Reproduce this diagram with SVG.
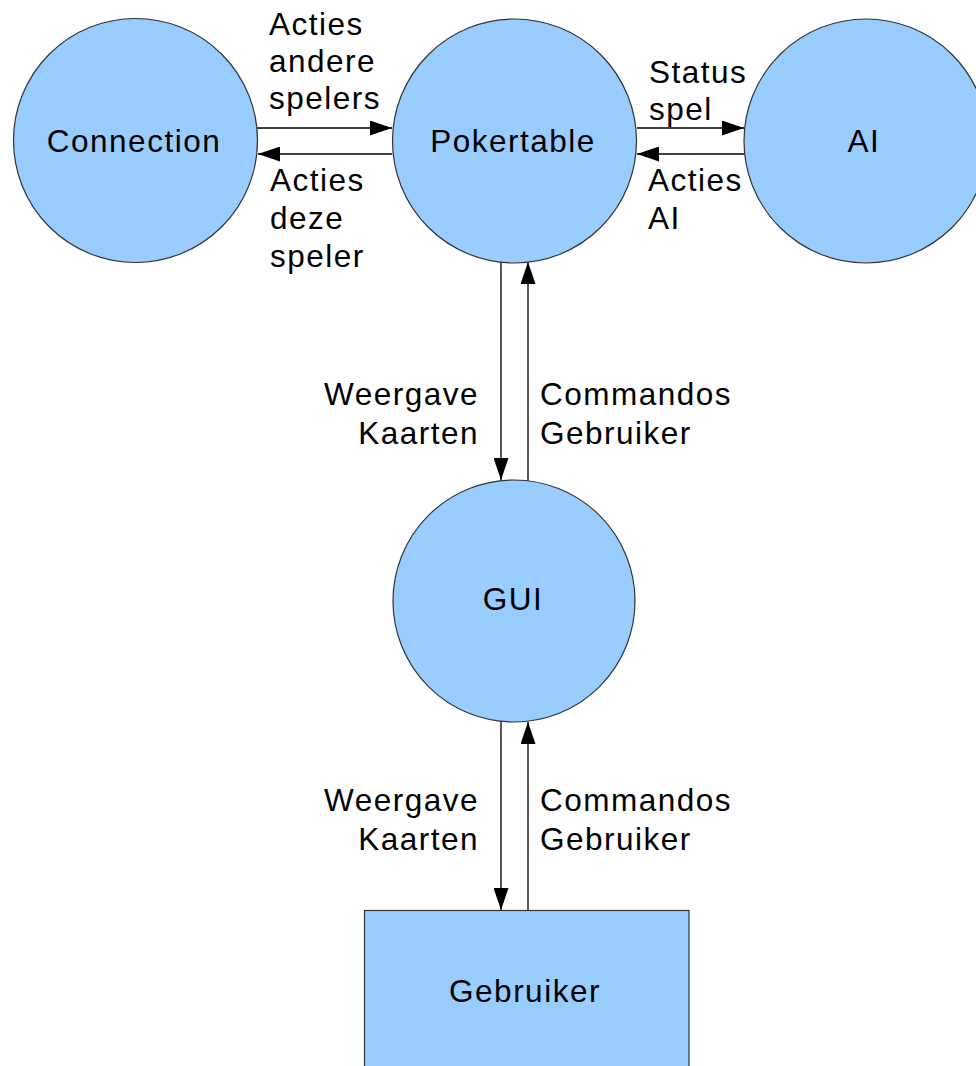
<svg xmlns="http://www.w3.org/2000/svg" width="976" height="1066" viewBox="0 0 976 1066">
<style>
.node{fill:#99ccff;stroke:#333333;stroke-width:1.2}
.t{font-family:"Liberation Sans",Arial,sans-serif;font-size:31.5px;letter-spacing:1.5px;fill:#000}
.c{text-anchor:middle}
.e{text-anchor:end}
.conn{stroke:#000;stroke-width:1.3;fill:none;marker-end:url(#ah)}
</style>
<defs>
<marker id="ah" markerUnits="userSpaceOnUse" markerWidth="22" markerHeight="15" refX="22" refY="7.5" orient="auto">
<path d="M0,0 L22,7.5 L0,15 z" fill="#000"/>
</marker>
</defs>
<rect width="976" height="1066" fill="#ffffff"/>
<g id="connectors">
<line class="conn" x1="257" y1="128" x2="392" y2="128"/>
<line class="conn" x1="392" y1="154" x2="258" y2="154"/>
<line class="conn" x1="637" y1="128" x2="744" y2="128"/>
<line class="conn" x1="744" y1="154" x2="637" y2="154"/>
<line class="conn" x1="501" y1="262" x2="501" y2="480"/>
<line class="conn" x1="528" y1="481" x2="528" y2="262"/>
<line class="conn" x1="501" y1="721" x2="501" y2="910"/>
<line class="conn" x1="528" y1="910" x2="528" y2="722"/>
</g>
<g id="labels">
<text class="t" x="269" y="35">Acties</text>
<text class="t" x="269" y="72">andere</text>
<text class="t" x="269" y="109">spelers</text>
<text class="t" x="270" y="191">Acties</text>
<text class="t" x="270" y="229">deze</text>
<text class="t" x="270" y="267">speler</text>
<text class="t" x="649" y="83">Status</text>
<text class="t" x="649" y="120">spel</text>
<text class="t" x="648" y="191">Acties</text>
<text class="t" x="648" y="229">AI</text>
<text class="t e" x="479" y="405">Weergave</text>
<text class="t e" x="479" y="444">Kaarten</text>
<text class="t" x="540" y="405">Commandos</text>
<text class="t" x="540" y="444">Gebruiker</text>
<text class="t e" x="479" y="811">Weergave</text>
<text class="t e" x="479" y="850">Kaarten</text>
<text class="t" x="540" y="811">Commandos</text>
<text class="t" x="540" y="850">Gebruiker</text>
</g>
<g id="connection">
<circle class="node" cx="135.5" cy="140.5" r="122"/>
<text class="t c" x="134" y="152">Connection</text>
</g>
<g id="pokertable">
<circle class="node" cx="514.5" cy="141" r="122"/>
<text class="t c" x="513" y="152">Pokertable</text>
</g>
<g id="ai">
<circle class="node" cx="866" cy="141" r="122"/>
<text class="t c" x="864" y="152">AI</text>
</g>
<g id="gui">
<circle class="node" cx="514" cy="601" r="121"/>
<text class="t c" x="513" y="610">GUI</text>
</g>
<g id="gebruiker">
<rect class="node" x="364.5" y="910.5" width="324.5" height="170"/>
<text class="t c" x="525" y="1002">Gebruiker</text>
</g>
</svg>
